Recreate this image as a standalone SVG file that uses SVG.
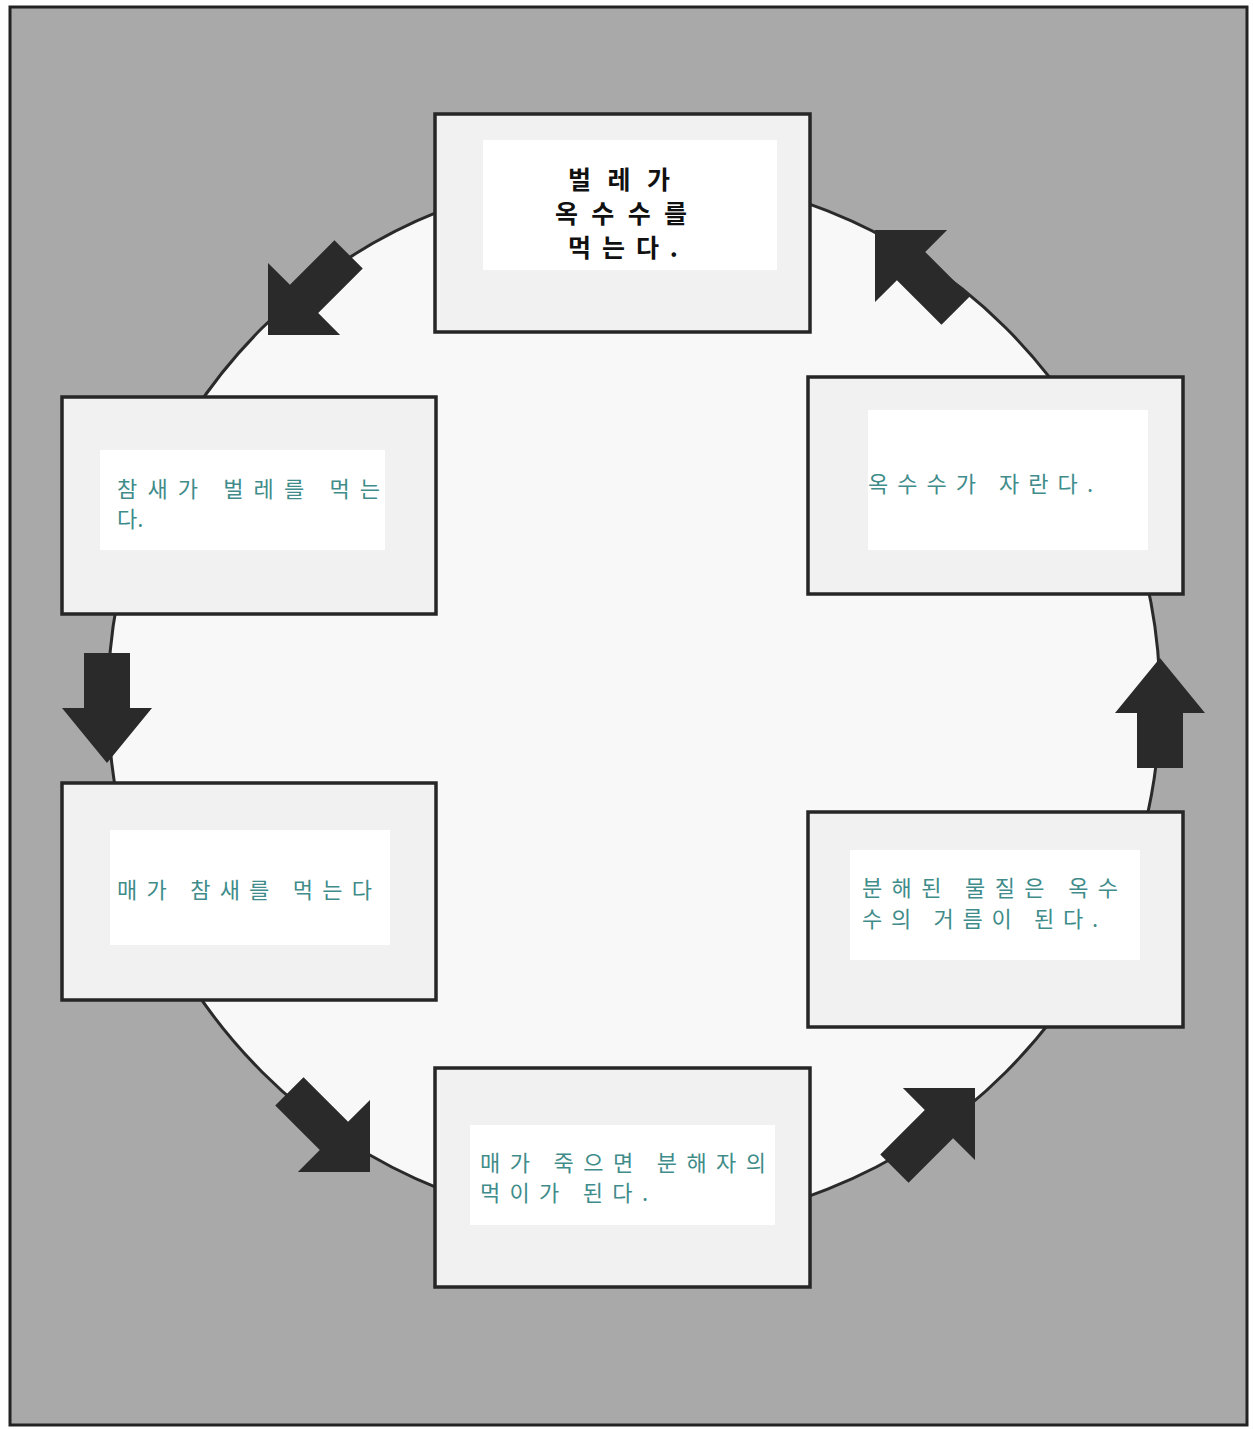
<svg xmlns="http://www.w3.org/2000/svg" xmlns:xlink="http://www.w3.org/1999/xlink" width="1253" height="1429" viewBox="0 0 1253 1429">
<style>
.box{fill:#f1f1f1;stroke:#262626;stroke-width:3.5}
.inner{fill:#ffffff}
.hand{font-family:"Noto Sans CJK KR","Noto Sans",sans-serif;font-size:22px;fill:#3f8c8a}
.title{font-family:"Noto Sans CJK KR","Noto Sans",sans-serif;font-size:25px;font-weight:700;fill:#111;text-anchor:middle}
.arrow{fill:#2a2a2a}
</style>
<defs>
<path id="diag" d="M0,0 L-51,-51 L-51,-20 L-114,-20 L-114,20 L-51,20 L-51,51 Z"/>
<path id="vert" d="M0,0 L-55,-45 L-55,-23 L-110,-23 L-110,23 L-55,23 L-55,45 Z"/>
</defs>
<rect x="0" y="0" width="1253" height="1429" fill="#ffffff"/>
<rect x="10" y="7" width="1237" height="1418" fill="#a9a9a9" stroke="#222" stroke-width="3"/>
<circle cx="634" cy="700" r="526" fill="#f8f8f8" stroke="#2a2a2a" stroke-width="3"/>
<g id="connectors" class="arrow">
<use xlink:href="#diag" transform="translate(268,335) rotate(135)"/>
<use xlink:href="#vert" transform="translate(107,763) rotate(90)"/>
<use xlink:href="#diag" transform="translate(370,1172) rotate(45)"/>
<use xlink:href="#diag" transform="translate(975,1088) rotate(-45)"/>
<use xlink:href="#vert" transform="translate(1160,658) rotate(-90)"/>
<use xlink:href="#diag" transform="translate(875,230) rotate(-135)"/>
</g>
<g id="n1">
<rect class="box" x="435" y="114" width="375" height="218"/>
<rect class="inner" x="483" y="140" width="294" height="130"/>
<text class="title"><tspan x="619" y="189" textLength="102" lengthAdjust="spacing">벌레가</tspan><tspan x="621" y="223" textLength="132" lengthAdjust="spacing">옥수수를</tspan><tspan x="623" y="257" textLength="110" lengthAdjust="spacing">먹는다.</tspan></text>
</g>
<g id="n2">
<rect class="box" x="62" y="397" width="374" height="217"/>
<rect class="inner" x="100" y="450" width="285" height="100"/>
<text class="hand"><tspan x="117" y="497" textLength="263" lengthAdjust="spacing">참새가 벌레를 먹는</tspan><tspan x="117" y="527">다.</tspan></text>
</g>
<g id="n3">
<rect class="box" x="62" y="783" width="374" height="217"/>
<rect class="inner" x="110" y="830" width="280" height="115"/>
<text class="hand" x="117" y="898" textLength="255" lengthAdjust="spacing">매가 참새를 먹는다</text>
</g>
<g id="n4">
<rect class="box" x="435" y="1068" width="375" height="219"/>
<rect class="inner" x="470" y="1125" width="305" height="100"/>
<text class="hand"><tspan x="480" y="1171" textLength="286" lengthAdjust="spacing">매가 죽으면 분해자의</tspan><tspan x="480" y="1201" textLength="168" lengthAdjust="spacing">먹이가 된다.</tspan></text>
</g>
<g id="n5">
<rect class="box" x="808" y="812" width="375" height="215"/>
<rect class="inner" x="850" y="850" width="290" height="110"/>
<text class="hand"><tspan x="862" y="896" textLength="256" lengthAdjust="spacing">분해된 물질은 옥수</tspan><tspan x="862" y="927" textLength="236" lengthAdjust="spacing">수의 거름이 된다.</tspan></text>
</g>
<g id="n6">
<rect class="box" x="808" y="377" width="375" height="217"/>
<rect class="inner" x="868" y="410" width="280" height="140"/>
<text class="hand" x="868" y="492" textLength="225" lengthAdjust="spacing">옥수수가 자란다.</text>
</g>
</svg>
